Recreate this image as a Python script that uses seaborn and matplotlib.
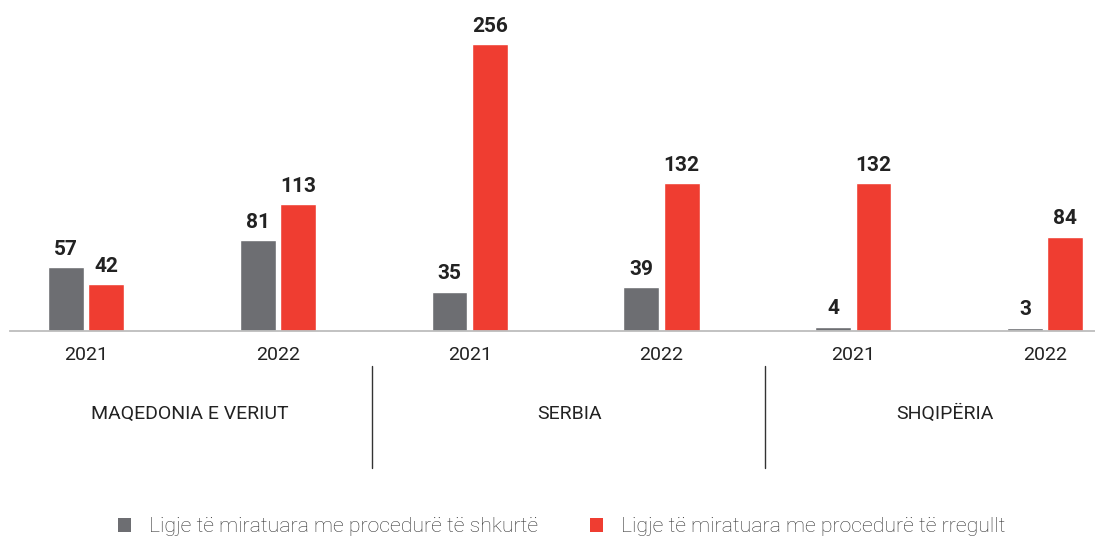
import pandas as pd
import matplotlib.pyplot as plt
import seaborn as sns
from matplotlib.patches import Patch

# data
countries = ['MAQEDONIA E VERIUT', 'SERBIA', 'SHQIPËRIA']
years = ['2021', '2022']
short_proc = [57, 81, 35, 39, 4, 3]
regular_proc = [42, 113, 256, 132, 132, 84]
series_names = ['Ligje të miratuara me procedurë të shkurtë',
                'Ligje të miratuara me procedurë të rregullt']
colors = ['#6d6e72', '#ef3d31']

groups = [f'{c} {y}' for c in countries for y in years]
df = pd.DataFrame({
    'group': groups * 2,
    'series': [series_names[0]] * 6 + [series_names[1]] * 6,
    'value': short_proc + regular_proc,
})

sns.set_style('white')
plt.rcParams['font.family'] = ['Roboto', 'DejaVu Sans']

fig = plt.figure(figsize=(10.95, 5.38), dpi=100)
ax = fig.add_axes([10 / 1095, 1 - 331 / 538, 1 - 10 / 1095, 314 / 538])

sns.barplot(data=df, x='group', y='value', hue='series', order=groups,
            hue_order=series_names, palette=colors, width=0.42, gap=0.11,
            saturation=1, legend=False, ax=ax)

for cont in ax.containers:
    ax.bar_label(cont, padding=6, fontsize=15, fontweight='bold', color='#222222')

ax.set_xlim(-0.396, 5.26)
ax.set_ylim(0, 280)
ax.set_xticks(range(6))
ax.set_xticklabels(years * 3, fontsize=14, color='#222222')
ax.tick_params(axis='x', length=0, pad=11)
ax.set_yticks([])
ax.set_xlabel('')
ax.set_ylabel('')
for s in ['top', 'right', 'left']:
    ax.spines[s].set_visible(False)
ax.spines['bottom'].set_color('#bdbdbd')
ax.spines['bottom'].set_linewidth(1.3)

# country labels and separators under the years
trans = ax.get_xaxis_transform()
for xc, c in zip([0.54, 2.52, 4.48], countries):
    ax.text(xc, -0.264, c, transform=trans, ha='center', va='center',
            fontsize=14, color='#222222', clip_on=False)
for xsep in [1.49, 3.54]:
    ax.plot([xsep, xsep], [-0.111, -0.436], transform=trans, color='#333333',
            lw=1, clip_on=False)

handles = [Patch(facecolor=col, edgecolor='none') for col in colors]
fig.legend(handles, series_names, loc='center', bbox_to_anchor=(0.513, 11 / 538),
           ncol=2, frameon=False, prop={'size': 15.3, 'weight': 'light'},
           handlelength=0.65, handleheight=0.65, handletextpad=0.85,
           columnspacing=2.4, labelcolor='#333333')

fig.savefig('out.png', dpi=100)
